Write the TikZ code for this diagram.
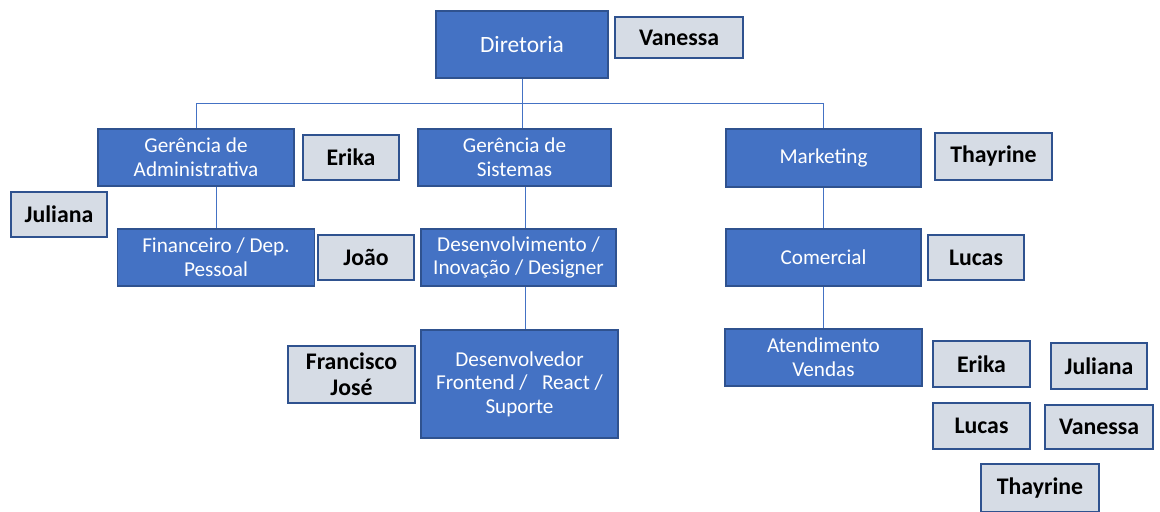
\documentclass[tikz,border=0pt]{standalone}
\usepackage{fontspec}
\setmainfont{Carlito}
\usetikzlibrary{positioning}
\definecolor{deptblue}{HTML}{4472C4}
\definecolor{deptedge}{HTML}{2F528F}
\definecolor{namefill}{HTML}{D6DCE5}

\begin{document}
\begin{tikzpicture}[x=0.5pt, y=-0.5pt,
  dept/.style={rectangle, draw=deptedge, line width=0.6pt, fill=deptblue,
               text=white, align=center, inner sep=1pt, font=\fontsize{10.6}{11.8}\selectfont},
  person/.style={rectangle, draw=deptedge, line width=0.7pt, fill=namefill,
                 align=center, inner sep=1pt, font=\fontsize{11.9}{13}\selectfont\bfseries},
  link/.style={line width=0.5pt, deptblue},
]

\useasboundingbox (0,0) rectangle (1160,511);

% departments
\node[dept, minimum width=86pt, minimum height=33.5pt, font=\fontsize{11.7}{13}\selectfont] (dir) at (522,44.5) {Diretoria};
\node[dept, minimum width=98pt, minimum height=28.5pt] (gadm) at (196,157.5) {Gerência de\\Administrativa};
\node[dept, minimum width=96.5pt, minimum height=28.5pt] (gsis) at (514.5,157.5) {Gerência de\\Sistemas};
\node[dept, minimum width=97.5pt, minimum height=29pt] (mkt) at (823.5,158) {Marketing};
\node[dept, minimum width=98.2pt, minimum height=28.5pt] (fin) at (216,257.5) {Financeiro / Dep.\\Pessoal};
\node[dept, minimum width=97.5pt, minimum height=28.5pt] (dsv) at (518.5,257.5) {Desenvolvimento /\\Inovação / Designer};
\node[dept, minimum width=97.5pt, minimum height=28.5pt] (com) at (823.5,257.5) {Comercial};
\node[dept, minimum width=98.5pt, minimum height=54pt] (dvd) at (519.5,384) {Desenvolvedor\\Frontend / \ \ React /\\Suporte};
\node[dept, minimum width=98.5pt, minimum height=28.5pt] (ate) at (823.5,357.5) {Atendimento\\Vendas};

% people
\node[person, minimum width=64pt, minimum height=20.5pt] (van1) at (679,37.5) {Vanessa};
\node[person, minimum width=48pt, minimum height=22.5pt] (eri1) at (351,157.5) {Erika};
\node[person, minimum width=48pt, minimum height=22.5pt] (jul1) at (59,214.5) {Juliana};
\node[person, minimum width=48pt, minimum height=22.5pt] (joa) at (366,257.5) {João};
\node[person, minimum width=63.5pt, minimum height=28.5pt] (fra) at (351.5,374.5) {Francisco\\José};
\node[person, minimum width=58.5pt, minimum height=23.5pt] (tha1) at (993.5,156.5) {Thayrine};
\node[person, minimum width=48pt, minimum height=22.5pt] (luc1) at (976,257.5) {Lucas};
\node[person, minimum width=48.5pt, minimum height=23pt] (eri2) at (981.5,364) {Erika};
\node[person, minimum width=48pt, minimum height=23pt] (jul2) at (1099,366) {Juliana};
\node[person, minimum width=48.5pt, minimum height=23pt] (luc2) at (981.5,426) {Lucas};
\node[person, minimum width=54pt, minimum height=22pt] (van2) at (1099,427) {Vanessa};
\node[person, minimum width=59pt, minimum height=24pt] (tha2) at (1040,488) {Thayrine};

% connectors
\coordinate (bus) at (522,103);
\draw[link] (dir.south) -- (dir.south |- gsis.north);
\draw[link] (gadm.north) |- (bus) -| (mkt.north);
\draw[link] (gadm.south -| fin.north) -- (fin.north);
\draw[link] ([xshift=5.25pt]gsis.south) -- ([xshift=5.25pt]gsis.south |- dsv.north);
\draw[link] ([xshift=3.25pt]dsv.south) -- ([xshift=3.25pt]dsv.south |- dvd.north);
\draw[link] (mkt.south) -- (com.north);
\draw[link] (com.south) -- (com.south |- ate.north);

\end{tikzpicture}
\end{document}
